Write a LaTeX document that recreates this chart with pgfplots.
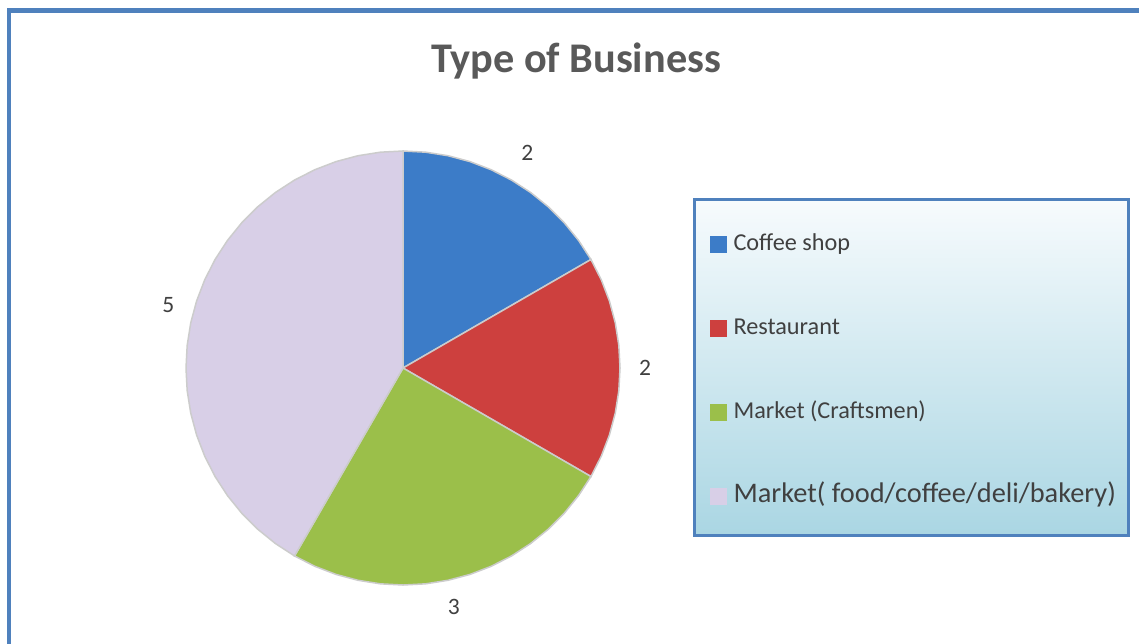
\documentclass[border=0pt]{standalone}
\usepackage{fontspec}
\setmainfont{Carlito}
\usepackage{pgfplots}
\pgfplotsset{compat=1.18}
\usepgfplotslibrary{polar}

\definecolor{frame}{HTML}{4F81BD}
\definecolor{coffee}{HTML}{3C7CC8}
\definecolor{rest}{HTML}{CD403E}
\definecolor{craft}{HTML}{9BBF4A}
\definecolor{food}{HTML}{D8CFE7}
\definecolor{txt}{HTML}{404040}
\definecolor{ttl}{HTML}{595959}
\definecolor{lgtop}{HTML}{F7FBFD}
\definecolor{lgbot}{HTML}{AAD6E3}

\begin{document}
\begin{tikzpicture}[x=0.4pt,y=0.4pt]
\useasboundingbox (0,0) rectangle (1139,643);
\fill[white] (0,0) rectangle (1139,643);
% chart frame (only top and left edges are inside the picture)
\draw[frame, line width=1.7pt] (8.8,-5) -- (8.8,632.5) -- (1145,632.5);
\node[font=\fontsize{16.9}{20}\selectfont\bfseries, text=ttl] at (576,582) {Type of Business};
% legend box
\shade[top color=lgtop, bottom color=lgbot] (694,108) rectangle (1128,444);
\draw[frame, line width=1.2pt] (694,108) rectangle (1128,444);

% values: Coffee shop 2, Restaurant 2, Market (Craftsmen) 3, Market food 5  (total 12)
% wedges in polar coords (angle, radius), clockwise from 12 o'clock
\begin{polaraxis}[
  at={(161.2pt,110pt)}, anchor=center,
  scale only axis, width=173.6pt, height=173.6pt,
  ymin=0, ymax=1, hide axis, clip=false,
  legend cell align=left,
  legend image code/.code={\path[#1,draw=none] (0pt,-3.4pt) rectangle (6.8pt,3.4pt);},
  legend style={at={(1.2051,0.8174)}, anchor=north west, draw=none, fill=none,
    inner sep=0pt, row sep=22.6pt, column sep=2.8pt,
    nodes={inner xsep=0pt, inner ysep=1pt, text height=7pt, text depth=2pt,
      font=\fontsize{9.7}{11}\selectfont, text=txt}},
  every axis plot/.append style={draw=white!80!black, line width=0.6pt},
]
\addplot[fill=coffee] coordinates {(0,0) (90,1) (84,1) (78,1) (72,1) (66,1) (60,1) (54,1) (48,1) (42,1) (36,1) (30,1) (0,0)};
\addlegendentry{Coffee shop}
\addplot[fill=rest] coordinates {(0,0) (30,1) (24,1) (18,1) (12,1) (6,1) (0,1) (-6,1) (-12,1) (-18,1) (-24,1) (-30,1) (0,0)};
\addlegendentry{Restaurant}
\addplot[fill=craft] coordinates {(0,0) (-30,1) (-36,1) (-42,1) (-48,1) (-54,1) (-60,1) (-66,1) (-72,1) (-78,1) (-84,1) (-90,1) (-96,1) (-102,1) (-108,1) (-114,1) (-120,1) (0,0)};
\addlegendentry{Market (Craftsmen)}
\addplot[fill=food] coordinates {(0,0) (-120,1) (-126,1) (-132,1) (-138,1) (-144,1) (-150,1) (-156,1) (-162,1) (-168,1) (-174,1) (-180,1) (-186,1) (-192,1) (-198,1) (-204,1) (-210,1) (-216,1) (-222,1) (-228,1) (-234,1) (-240,1) (-246,1) (-252,1) (-258,1) (-264,1) (-270,1) (0,0)};
\addlegendentry{\fontsize{11.35}{13}\selectfont Market( food/coffee/deli/bakery)}

\node[text=txt, font=\fontsize{9.4}{11}\selectfont] at (axis cs:60,1.145) {2};
\node[text=txt, font=\fontsize{9.4}{11}\selectfont] at (axis cs:0,1.115) {2};
\node[text=txt, font=\fontsize{9.4}{11}\selectfont] at (axis cs:-78,1.125) {3};
\node[text=txt, font=\fontsize{9.4}{11}\selectfont] at (axis cs:165,1.12) {5};
\end{polaraxis}
\end{tikzpicture}
\end{document}
